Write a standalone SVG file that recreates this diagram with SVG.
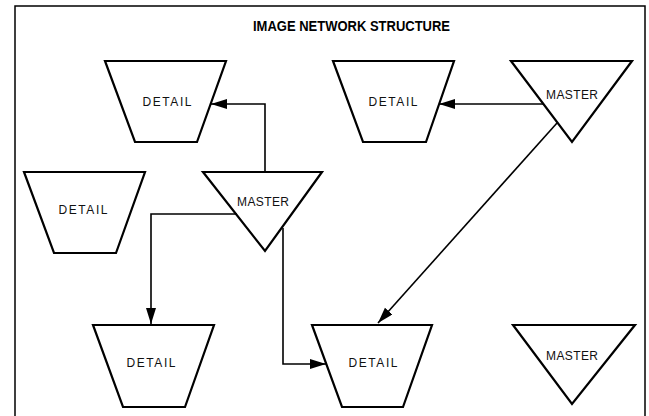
<svg xmlns="http://www.w3.org/2000/svg" width="649" height="416" viewBox="0 0 649 416">
<defs>
<marker id="arr" markerUnits="userSpaceOnUse" markerWidth="17" markerHeight="11" refX="16" refY="5" orient="auto">
<path d="M0,0 L16,5 L0,10 Z" fill="#000"/>
</marker>
<style>
.shape{fill:#fff;stroke:#000;stroke-width:2.2;stroke-linejoin:miter}
.lbl{font-family:"Liberation Sans",Arial,sans-serif;font-size:12px;text-anchor:middle;fill:#111}
.conn{fill:none;stroke:#000;stroke-width:1.6}
.title{font-family:"Liberation Sans",Arial,sans-serif;font-size:14px;font-weight:bold;fill:#000}
</style>
</defs>
<rect x="0" y="0" width="649" height="416" fill="#fff"/>
<rect x="15" y="6" width="630" height="420" fill="none" stroke="#000" stroke-width="1.5"/>
<text class="title" x="253" y="31" textLength="197" lengthAdjust="spacingAndGlyphs">IMAGE NETWORK STRUCTURE</text>

<g id="detail-top-left">
<polygon class="shape" points="105,61 226,61 197,142 135,142"/>
<text class="lbl" x="167" y="106" textLength="49">DETAIL</text>
</g>
<g id="detail-top-middle">
<polygon class="shape" points="333,61 454,61 426,142 363,142"/>
<text class="lbl" x="393" y="106" textLength="49">DETAIL</text>
</g>
<g id="master-top-right">
<polygon class="shape" points="511,61 632,61 572,142"/>
<text class="lbl" x="572" y="99" textLength="52">MASTER</text>
</g>
<g id="detail-mid-left">
<polygon class="shape" points="24,172 145,172 116,253 54,253"/>
<text class="lbl" x="83" y="214" textLength="49">DETAIL</text>
</g>
<g id="master-center">
<polygon class="shape" points="203,172 322,172 265,251"/>
<text class="lbl" x="263" y="206" textLength="52">MASTER</text>
</g>
<g id="detail-bottom-left">
<polygon class="shape" points="93,325 214,325 185,407 123,407"/>
<text class="lbl" x="151" y="367" textLength="49">DETAIL</text>
</g>
<g id="detail-bottom-middle">
<polygon class="shape" points="312,325 432,325 403,407 342,407"/>
<text class="lbl" x="373" y="367" textLength="49">DETAIL</text>
</g>
<g id="master-bottom-right">
<polygon class="shape" points="513,325 635,325 572,404"/>
<text class="lbl" x="572" y="360" textLength="52">MASTER</text>
</g>

<g id="connectors">
<polyline class="conn" points="265,172 265,104 211,104" marker-end="url(#arr)"/>
<polyline class="conn" points="543,104 439,104" marker-end="url(#arr)"/>
<polyline class="conn" points="237,214 151,214 151,324" marker-end="url(#arr)"/>
<polyline class="conn" points="283,228 283,364 326,364" marker-end="url(#arr)"/>
<polyline class="conn" points="557,123 378,323" marker-end="url(#arr)"/>
</g>
</svg>
